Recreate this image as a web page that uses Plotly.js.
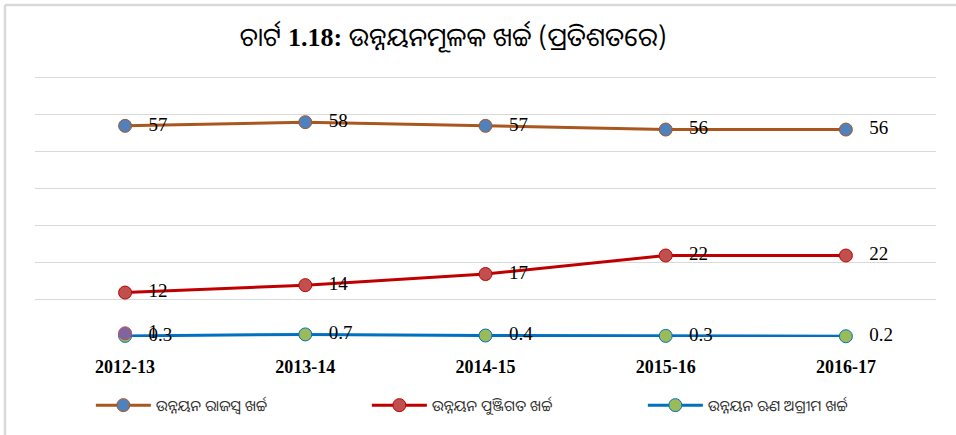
<!DOCTYPE html>
<html>
<head>
<meta charset="utf-8">
<script src="https://cdn.plot.ly/plotly-3.0.1.min.js"></script>
<style>
  html, body { margin: 0; padding: 0; background: #fff; }
  #chart { width: 956px; height: 435px; }
</style>
</head>
<body>
<div id="chart"></div>
<script>
const years = ['2012-13', '2013-14', '2014-15', '2015-16', '2016-17'];
const revenueExp = [57, 58, 57, 56, 56];
const capitalExp = [12, 14, 17, 22, 22];
const loansAdvances = [0.3, 0.7, 0.4, 0.3, 0.2];
const extraYears = ['2012-13'];
const extraValues = [1];

const seriesNames = [
  'ଉନ୍ନୟନ ରାଜସ୍ୱ ଖର୍ଚ୍ଚ',
  'ଉନ୍ନୟନ ପୁଞ୍ଜିଗତ ଖର୍ଚ୍ଚ',
  'ଉନ୍ନୟନ ଋଣ ଅଗ୍ରୀମ ଖର୍ଚ୍ଚ'
];
const titleText = 'ଚାର୍ଟ <span style="font-family:Liberation Serif, serif"><b>1.18:</b></span> ଉନ୍ନୟନମୂଳକ ଖର୍ଚ୍ଚ (ପ୍ରତିଶତରେ)';

const labelFont = { family: 'Liberation Serif, Times New Roman, serif', size: 19, color: '#000' };
const odiaFont = 'Noto Sans Oriya, Noto Sans, Lohit Odia, sans-serif';

function fmt(v) { return '   ' + String(v); }

const traces = [
  {
    x: years, y: revenueExp, name: seriesNames[0], type: 'scatter', mode: 'lines+markers+text',
    line: { color: '#A9571E', width: 3 },
    marker: { color: '#4F81BD', size: 13, line: { color: '#A9571E', width: 1 } },
    text: revenueExp.map(fmt), textposition: 'middle right', textfont: labelFont,
    cliponaxis: false
  },
  {
    x: years, y: capitalExp, name: seriesNames[1], type: 'scatter', mode: 'lines+markers+text',
    line: { color: '#C00000', width: 3 },
    marker: { color: '#C0504D', size: 13, line: { color: '#C00000', width: 1 } },
    text: capitalExp.map(fmt), textposition: 'middle right', textfont: labelFont,
    cliponaxis: false
  },
  {
    x: years, y: loansAdvances, name: seriesNames[2], type: 'scatter', mode: 'lines+markers+text',
    line: { color: '#0070C0', width: 3 },
    marker: { color: '#9BBB59', size: 13, line: { color: '#0070C0', width: 1 } },
    text: loansAdvances.map(fmt), textposition: 'middle right', textfont: labelFont,
    cliponaxis: false
  },
  {
    x: extraYears, y: extraValues, name: '', type: 'scatter', mode: 'markers+text',
    showlegend: false,
    marker: { color: '#8064A2', size: 13, line: { color: '#C0504D', width: 1 } },
    text: extraValues.map(fmt), textposition: 'middle right', textfont: labelFont,
    cliponaxis: false
  }
];

const layout = {
  width: 956, height: 435,
  margin: { l: 35, r: 20, t: 74, b: 98 },
  paper_bgcolor: '#fff', plot_bgcolor: '#fff',
  title: {
    text: titleText,
    font: { family: odiaFont, size: 26, color: '#000' },
    x: 0.474, xanchor: 'center', y: 0.915, yanchor: 'middle'
  },
  xaxis: {
    type: 'category',
    range: [-0.5, 4.5],
    showgrid: false, zeroline: false, showline: false,
    ticks: '',
    tickfont: { family: 'Liberation Serif, Times New Roman, serif', size: 18, color: '#000', weight: 'bold' },
    ticklabelstandoff: 17,
    fixedrange: true
  },
  yaxis: {
    range: [0, 71], dtick: 10,
    showgrid: true, gridcolor: '#D9D9D9', gridwidth: 1,
    zeroline: false, showline: false, showticklabels: false, ticks: '',
    fixedrange: true
  },
  showlegend: true,
  legend: {
    orientation: 'h',
    x: 0.062, xanchor: 'left',
    y: -0.26, yanchor: 'middle',
    itemwidth: 55,
    entrywidth: 206, entrywidthmode: 'pixels',
    font: { family: odiaFont, size: 15, color: '#303030' },
    bgcolor: 'rgba(0,0,0,0)'
  },
  shapes: [
    { type: 'line', xref: 'paper', yref: 'paper', x0: -0.0333, x1: 1.03, y0: 1.262, y1: 1.262,
      line: { color: '#D9D9D9', width: 2.5 } },
    { type: 'line', xref: 'paper', yref: 'paper', x0: -0.0333, x1: -0.0333, y0: 1.262, y1: -0.4,
      line: { color: '#D9D9D9', width: 2.5 } }
  ]
};

Plotly.newPlot('chart', traces, layout, { displayModeBar: false, staticPlot: true });
</script>
</body>
</html>
